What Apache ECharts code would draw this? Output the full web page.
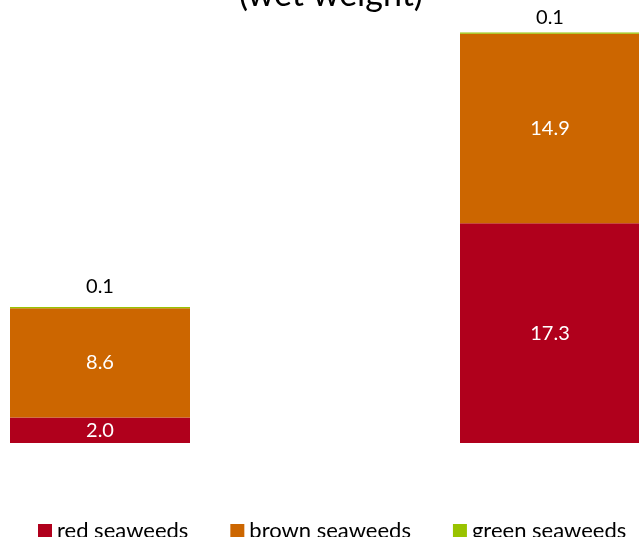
<!DOCTYPE html>
<html>
<head>
<meta charset="utf-8">
<script src="https://cdn.jsdelivr.net/npm/echarts@6/dist/echarts.min.js"></script>
<style>
  html, body { margin: 0; padding: 0; background: #fff; }
  #chart { width: 639px; height: 537px; }
</style>
</head>
<body>
<div id="chart"></div>
<script>
// Seaweed production by group, stacked (wet weight)
const categories = ['A', 'B'];
const redSeaweeds = [2.0, 17.3];
const brownSeaweeds = [8.6, 14.9];
const greenSeaweeds = [0.1, 0.1];

const FONT = 'Lato, "Open Sans", sans-serif';
const colors = { red: '#B0001C', brown: '#CC6600', green: '#99C300' };

const chart = echarts.init(document.getElementById('chart'), null, { renderer: 'canvas' });

function fmt(p) { return p.value.toFixed(1); }

const barBase = { type: 'bar', stack: 'total', barWidth: 180, clip: false };

// the tallest column's top label is nudged down so it stays on the canvas
const greenData = greenSeaweeds.map((v, i) =>
  i === greenSeaweeds.length - 1 ? { value: v, label: { offset: [0, 6] } } : v);

chart.setOption({
  animation: false,
  title: {
    text: '(wet weight)',
    left: 326,
    top: -27,
    textAlign: 'center',
    textStyle: { fontFamily: FONT, fontSize: 34, fontWeight: 'normal', color: '#000' }
  },
  legend: {
    left: 38,
    top: 520,
    padding: 0,
    itemWidth: 14,
    itemHeight: 14,
    itemGap: 42,
    icon: 'rect',
    textStyle: { fontFamily: FONT, fontSize: 22, color: '#000' },
    data: ['red seaweeds', 'brown seaweeds', 'green seaweeds']
  },
  // columns sit on the two ends of the category axis
  grid: { left: 100, width: 450, top: 11, height: 432 },
  xAxis: {
    type: 'category',
    data: categories,
    boundaryGap: false,
    show: false
  },
  yAxis: {
    type: 'value',
    min: 0,
    max: 34,
    show: false
  },
  series: [
    Object.assign({}, barBase, {
      name: 'red seaweeds',
      data: redSeaweeds,
      itemStyle: { color: colors.red },
      label: { show: true, position: 'inside', color: '#fff', fontFamily: FONT, fontSize: 20, formatter: fmt }
    }),
    Object.assign({}, barBase, {
      name: 'brown seaweeds',
      data: brownSeaweeds,
      itemStyle: { color: colors.brown },
      label: { show: true, position: 'inside', color: '#fff', fontFamily: FONT, fontSize: 20, formatter: fmt }
    }),
    Object.assign({}, barBase, {
      name: 'green seaweeds',
      data: greenData,
      itemStyle: { color: colors.green },
      label: { show: true, position: 'top', distance: 11, color: '#000', fontFamily: FONT, fontSize: 20, formatter: fmt }
    })
  ]
});
</script>
</body>
</html>
